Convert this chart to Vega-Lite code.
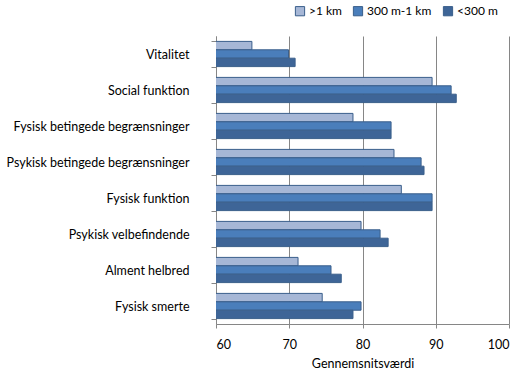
{
  "$schema": "https://vega.github.io/schema/vega-lite/v6.json",
  "width": 293,
  "height": 288,
  "autosize": {"type": "none"},
  "padding": {"left": 216, "top": 36, "right": 20, "bottom": 57},
  "background": "white",
  "config": {
    "view": {"stroke": null},
    "font": "Lato",
    "axis": {"labelFont": "Lato", "titleFont": "Lato", "labelColor": "#000000", "titleColor": "#000000"}
  },
  "data": {
    "values": [
      {"kategori": "Vitalitet", "afstand": ">1 km", "v": 64.9},
      {"kategori": "Vitalitet", "afstand": "300 m-1 km", "v": 69.9},
      {"kategori": "Vitalitet", "afstand": "<300 m", "v": 70.8},
      {"kategori": "Social funktion", "afstand": ">1 km", "v": 89.5},
      {"kategori": "Social funktion", "afstand": "300 m-1 km", "v": 92.1},
      {"kategori": "Social funktion", "afstand": "<300 m", "v": 92.8},
      {"kategori": "Fysisk betingede begrænsninger", "afstand": ">1 km", "v": 78.7},
      {"kategori": "Fysisk betingede begrænsninger", "afstand": "300 m-1 km", "v": 83.9},
      {"kategori": "Fysisk betingede begrænsninger", "afstand": "<300 m", "v": 83.9},
      {"kategori": "Psykisk betingede begrænsninger", "afstand": ">1 km", "v": 84.3},
      {"kategori": "Psykisk betingede begrænsninger", "afstand": "300 m-1 km", "v": 88.0},
      {"kategori": "Psykisk betingede begrænsninger", "afstand": "<300 m", "v": 88.4},
      {"kategori": "Fysisk funktion", "afstand": ">1 km", "v": 85.3},
      {"kategori": "Fysisk funktion", "afstand": "300 m-1 km", "v": 89.5},
      {"kategori": "Fysisk funktion", "afstand": "<300 m", "v": 89.5},
      {"kategori": "Psykisk velbefindende", "afstand": ">1 km", "v": 79.8},
      {"kategori": "Psykisk velbefindende", "afstand": "300 m-1 km", "v": 82.4},
      {"kategori": "Psykisk velbefindende", "afstand": "<300 m", "v": 83.5},
      {"kategori": "Alment helbred", "afstand": ">1 km", "v": 71.2},
      {"kategori": "Alment helbred", "afstand": "300 m-1 km", "v": 75.7},
      {"kategori": "Alment helbred", "afstand": "<300 m", "v": 77.1},
      {"kategori": "Fysisk smerte", "afstand": ">1 km", "v": 74.5},
      {"kategori": "Fysisk smerte", "afstand": "300 m-1 km", "v": 79.8},
      {"kategori": "Fysisk smerte", "afstand": "<300 m", "v": 78.7}
    ]
  },
  "mark": {"type": "bar", "stroke": "#3A5F8B", "strokeWidth": 1, "clip": true},
  "encoding": {
    "y": {
      "field": "kategori",
      "type": "nominal",
      "sort": null,
      "scale": {"paddingInner": 0.3, "paddingOuter": 0.15},
      "axis": {
        "title": null,
        "tickBand": "extent",
        "labelFontSize": 12.5,
        "labelPadding": 22,
        "tickSize": 5,
        "tickColor": "#868686",
        "domainColor": "#868686",
        "labelLimit": 220
      }
    },
    "yOffset": {
      "field": "afstand",
      "type": "nominal",
      "sort": [">1 km", "300 m-1 km", "<300 m"],
      "scale": {"paddingInner": 0, "paddingOuter": 0}
    },
    "x": {
      "field": "v",
      "type": "quantitative",
      "scale": {"domain": [60, 100], "zero": false, "nice": false},
      "axis": {
        "title": "Gennemsnitsværdi",
        "values": [60, 70, 80, 90, 100],
        "grid": true,
        "gridColor": "#868686",
        "gridOpacity": 1,
        "domainColor": "#868686",
        "tickColor": "#868686",
        "tickSize": 4,
        "labelFontSize": 12.5,
        "labelPadding": 10,
        "titleFontSize": 12.5,
        "titleFontWeight": "normal",
        "titlePadding": 7
      }
    },
    "color": {
      "field": "afstand",
      "type": "nominal",
      "sort": [">1 km", "300 m-1 km", "<300 m"],
      "scale": {"domain": [">1 km", "300 m-1 km", "<300 m"], "range": ["#A6B7D6", "#4A7EBB", "#3E6597"]},
      "legend": {
        "title": null,
        "orient": "none",
        "direction": "horizontal",
        "legendX": 78,
        "legendY": -31,
        "symbolType": "square",
        "symbolSize": 85,
        "symbolStrokeColor": "#3A5F8B",
        "symbolStrokeWidth": 1,
        "labelFontSize": 12,
        "labelFont": "Lato",
        "columnPadding": 9,
        "labelOffset": 3
      }
    }
  }
}
